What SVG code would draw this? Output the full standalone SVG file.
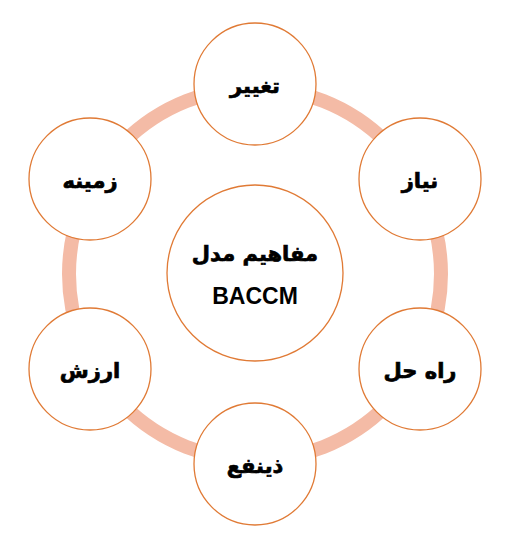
<svg xmlns="http://www.w3.org/2000/svg" width="524" height="542" viewBox="0 0 524 542">
<style>
.node circle{fill:#fff;stroke:#E07A35;stroke-width:1.3}
.lbl{font-family:"DejaVu Sans","Noto Sans",sans-serif;font-weight:bold;font-size:21px;fill:#000;stroke:#000;stroke-width:0.7;text-anchor:middle;direction:rtl}
.en{font-family:"Liberation Sans",Arial,sans-serif;font-weight:bold;font-size:23px;fill:#000;text-anchor:middle}
</style>
<rect width="524" height="542" fill="#fff"/>
<g id="connectors">
<circle cx="255" cy="274" r="186" fill="none" stroke="#F4BBA6" stroke-width="14"/>
</g>
<g id="center" class="node">
<circle cx="255" cy="273" r="88"/>
<text class="lbl" x="255" y="261" font-size="22">مفاهیم مدل</text>
<text class="en" x="255" y="304">BACCM</text>
</g>
<g id="taghyir" class="node">
<circle cx="255" cy="84" r="61"/>
<text class="lbl" x="255" y="93">تغییر</text>
</g>
<g id="niaz" class="node">
<circle cx="420" cy="179" r="61"/>
<text class="lbl" x="420" y="188">نیاز</text>
</g>
<g id="rahhal" class="node">
<circle cx="420" cy="369" r="61"/>
<text class="lbl" x="420" y="378">راه حل</text>
</g>
<g id="zinafe" class="node">
<circle cx="255" cy="464" r="61"/>
<text class="lbl" x="255" y="473">ذینفع</text>
</g>
<g id="arzesh" class="node">
<circle cx="90" cy="369" r="61"/>
<text class="lbl" x="90" y="378">ارزش</text>
</g>
<g id="zamine" class="node">
<circle cx="90" cy="179" r="61"/>
<text class="lbl" x="90" y="188">زمینه</text>
</g>
</svg>
